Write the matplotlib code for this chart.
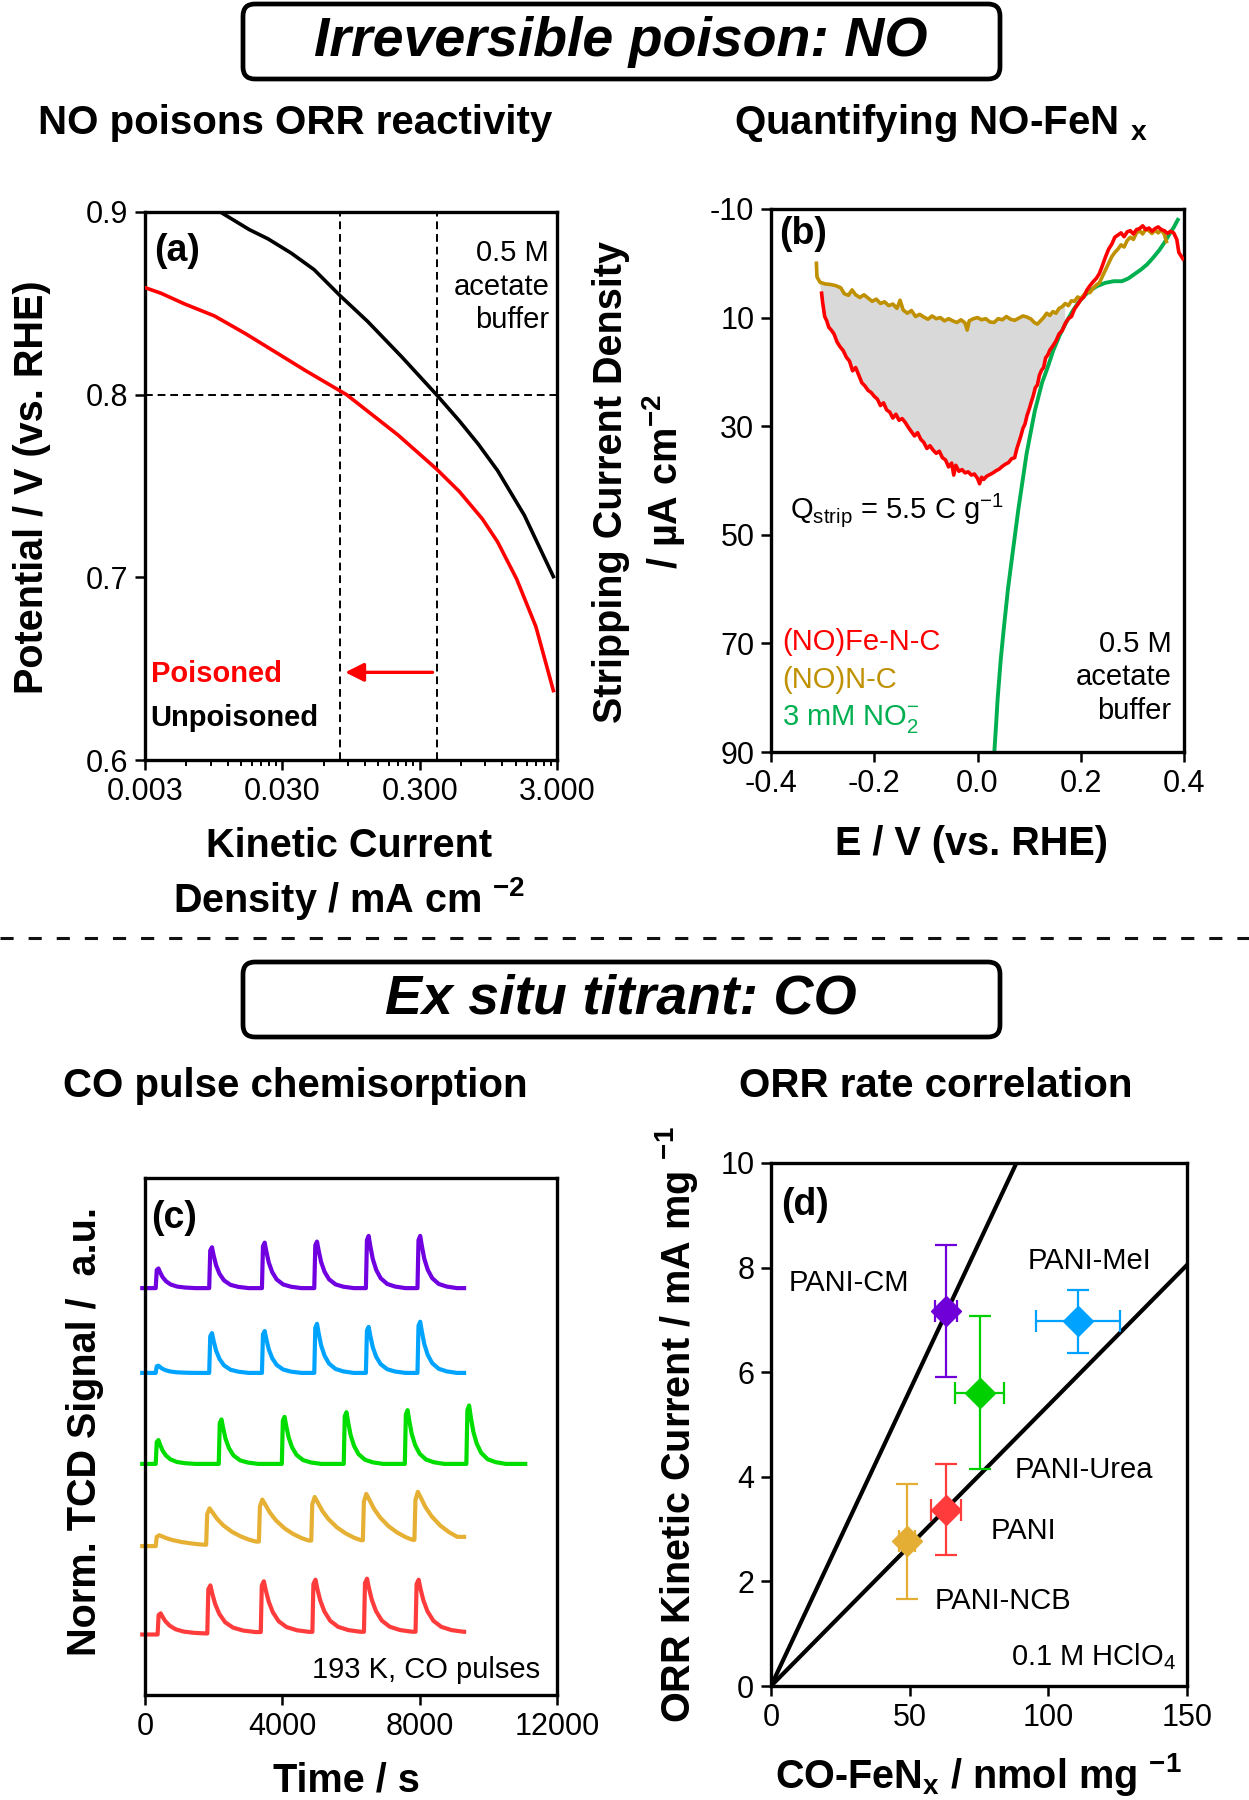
import matplotlib
matplotlib.use("Agg")
import matplotlib.pyplot as plt
from matplotlib.patches import FancyBboxPatch
from matplotlib.ticker import FixedLocator, FixedFormatter, NullLocator, NullFormatter

plt.rcParams['font.family'] = ['Liberation Sans', 'DejaVu Sans']
plt.rcParams['mathtext.default'] = 'regular'
plt.rcParams['axes.unicode_minus'] = False
NARROW = ['Liberation Sans Narrow', 'Liberation Sans', 'DejaVu Sans']

# ---------------- data ----------------
# (a) kinetic current vs potential
unpois_j = [0.0106, 0.0172, 0.0236, 0.0348, 0.0510, 0.0790, 0.1257, 0.2227, 0.3977,
            0.5829, 0.8038, 1.1063, 1.7344, 2.8222]
unpois_E = [0.900, 0.8904, 0.8853, 0.8775, 0.8685, 0.8542, 0.840, 0.8206, 0.800,
            0.7857, 0.7728, 0.7585, 0.7340, 0.7004]
pois_j = [0.003, 0.00393, 0.00577, 0.00961, 0.0161, 0.02689, 0.04487, 0.0881, 0.1257,
          0.2088, 0.3977, 0.5829, 0.8577, 1.1063, 1.5264, 2.1058, 2.8222]
pois_E = [0.8586, 0.8555, 0.8498, 0.8431, 0.8335, 0.8232, 0.8129, 0.800, 0.7909,
          0.7779, 0.7593, 0.7470, 0.7320, 0.7195, 0.6990, 0.6730, 0.6380]
ref_j = [0.079, 0.398]
ref_E = 0.8
a_xticks = [0.003, 0.03, 0.3, 3.0]
a_xticklabels = ['0.003', '0.030', '0.300', '3.000']
a_yticks = [0.6, 0.7, 0.8, 0.9]

# (b) stripping voltammetry
NC_E = [-0.312, -0.311, -0.305, -0.295, -0.285, -0.275, -0.265, -0.258, -0.250, -0.243,
        -0.236, -0.228, -0.220, -0.212, -0.204, -0.196, -0.188, -0.180, -0.172, -0.164,
        -0.156, -0.150, -0.144, -0.136, -0.128, -0.120, -0.112, -0.104, -0.096, -0.088,
        -0.080, -0.072, -0.064, -0.056, -0.048, -0.040, -0.032, -0.024, -0.020, -0.016,
        -0.008, 0.000, 0.008, 0.016, 0.024, 0.032, 0.040, 0.048, 0.056, 0.064,
        0.072, 0.080, 0.088, 0.096, 0.104, 0.110, 0.116, 0.122, 0.128, 0.134,
        0.140, 0.146, 0.152, 0.158, 0.164, 0.170, 0.176, 0.182, 0.188, 0.194,
        0.200, 0.206, 0.212, 0.218, 0.224, 0.230, 0.236, 0.242, 0.248, 0.254,
        0.260, 0.266, 0.272, 0.278, 0.284, 0.290, 0.296, 0.302, 0.308, 0.314,
        0.320, 0.326, 0.332, 0.338, 0.344, 0.350, 0.356, 0.362, 0.366]
NC_j = [0.0, 2.5, 3.5, 3.8, 3.9, 4.1, 4.5, 5.6, 5.9, 4.9,
        5.8, 6.3, 5.8, 6.4, 7.0, 6.6, 7.4, 7.1, 7.8, 7.5,
        8.3, 6.8, 8.6, 9.2, 8.7, 9.8, 9.4, 9.9, 10.3, 9.7,
        10.2, 10.0, 10.6, 10.2, 10.6, 10.9, 10.4, 11.0, 12.3, 10.6,
        10.2, 10.0, 10.4, 10.2, 10.8, 10.9, 10.2, 10.4, 9.8, 10.3,
        10.5, 10.1, 9.7, 9.9, 10.3, 10.9, 11.2, 10.6, 10.0, 9.2,
        9.6, 8.9, 9.2, 8.3, 8.0, 7.4, 7.8, 6.9, 7.0, 6.2,
        6.5, 5.8, 5.2, 5.4, 4.6, 4.0, 3.6, 2.4, 1.2, 0.0,
        -1.2, -2.0, -2.6, -3.4, -3.0, -4.2, -4.8, -4.4, -5.6, -6.0,
        -5.4, -6.3, -6.0, -5.5, -6.1, -5.6, -6.2, -5.3, -4.0]
FeNC_E = [-0.302, -0.300, -0.296, -0.292, -0.288, -0.284, -0.278, -0.272, -0.266, -0.260,
          -0.254, -0.248, -0.242, -0.236, -0.230, -0.224, -0.218, -0.212, -0.206, -0.200,
          -0.194, -0.188, -0.182, -0.176, -0.170, -0.164, -0.158, -0.152, -0.146, -0.140,
          -0.134, -0.128, -0.122, -0.116, -0.110, -0.104, -0.098, -0.092, -0.086, -0.080,
          -0.074, -0.068, -0.062, -0.056, -0.050, -0.046, -0.042, -0.036, -0.030, -0.024,
          -0.018, -0.012, -0.006, 0.000, 0.004, 0.008, 0.012, 0.018, 0.024, 0.030,
          0.036, 0.042, 0.048, 0.054, 0.060, 0.066, 0.072, 0.076, 0.080, 0.084,
          0.088, 0.092, 0.096, 0.100, 0.104, 0.108, 0.112, 0.116, 0.120, 0.124,
          0.128, 0.132, 0.136, 0.140, 0.146, 0.152, 0.158, 0.164, 0.170, 0.176,
          0.182, 0.188, 0.194, 0.200, 0.206, 0.212, 0.218, 0.224, 0.230, 0.236,
          0.242, 0.248, 0.254, 0.260, 0.266, 0.272, 0.278, 0.284, 0.290, 0.296,
          0.302, 0.308, 0.314, 0.320, 0.326, 0.332, 0.338, 0.344, 0.350, 0.356,
          0.362, 0.368, 0.374, 0.380, 0.386, 0.390, 0.394, 0.398]
FeNC_j = [5.5, 7.2, 9.8, 10.6, 11.8, 12.2, 13.0, 14.5, 15.4, 16.1,
          17.3, 18.0, 19.8, 19.2, 20.6, 22.0, 22.6, 23.4, 23.8, 24.5,
          25.0, 26.2, 25.7, 27.0, 27.4, 28.5, 27.8, 28.9, 28.6, 29.3,
          30.2, 31.0, 31.8, 31.2, 32.4, 33.0, 34.1, 33.6, 34.4, 35.0,
          34.6, 35.8, 36.2, 37.5, 36.8, 39.0, 37.2, 38.3, 38.0, 38.6,
          38.4, 39.0, 38.8, 39.6, 40.6, 39.4, 39.8, 39.2, 38.9, 38.6,
          38.2, 37.9, 37.4, 37.0, 36.7, 36.0, 35.8, 34.2, 33.0, 31.8,
          30.4, 29.6, 28.0, 26.9, 25.6, 24.4, 22.9, 22.4, 20.6, 19.7,
          19.2, 17.4, 16.9, 16.0, 15.2, 14.3, 13.0, 12.4, 11.1, 10.2,
          9.8, 8.4, 7.6, 6.7, 6.2, 4.9, 4.1, 3.4, 2.8, 1.9,
          0.4, -1.2, -2.6, -3.5, -4.8, -5.2, -5.6, -4.9, -5.8, -6.0,
          -5.4, -6.2, -6.4, -6.9, -6.2, -6.5, -5.9, -6.4, -6.7, -6.2,
          -6.0, -5.5, -5.9, -5.6, -4.4, -2.0, -1.4, -0.8]
NO2_E = [0.0326, 0.036, 0.039, 0.045, 0.051, 0.059, 0.067, 0.079, 0.0952, 0.111,
         0.125, 0.135, 0.147, 0.159, 0.171, 0.1835, 0.195, 0.2075, 0.220, 0.2316,
         0.2476, 0.2637, 0.2798, 0.292, 0.304, 0.316, 0.328, 0.340, 0.352, 0.362,
         0.372, 0.380, 0.388]
NO2_j = [90, 85, 80.2, 73, 67.2, 60, 54.1, 45.4, 35, 27.2,
         22.0, 19.4, 16.0, 13.3, 11.0, 8.9, 7.3, 5.9, 4.9, 4.2,
         3.6, 3.3, 3.3, 2.8, 2.0, 1.2, 0.25, -1.0, -2.4, -3.8,
         -5.4, -6.6, -8.0]
fill_Emax = 0.17
b_xticks = [-0.4, -0.2, 0.0, 0.2, 0.4]
b_xticklabels = ['-0.4', '-0.2', '0.0', '0.2', '0.4']
b_yticks = [-10, 10, 30, 50, 70, 90]

# (c) CO pulse chemisorption (offset traces, arbitrary units)
c_colors = ['#7000e0', '#00a4ff', '#00dd00', '#e6b034', '#ff3c3c']
c_base = [7.87, 6.23, 4.47, 2.88, 1.17]
c_end = [9294, 9294, 11074, 9294, 9294]
c_times = [[312, 1870, 3406, 4930, 6434, 7936],
           [312, 1870, 3406, 4930, 6434, 7936],
           [312, 2148, 3985, 5788, 7568, 9360],
           [312, 1781, 3317, 4842, 6345, 7847],
           [367, 1814, 3372, 4875, 6377, 7880]]
c_peaks = [[0.38, 0.79, 0.88, 0.90, 1.01, 1.01],
           [0.14, 0.77, 0.81, 0.95, 0.89, 0.99],
           [0.46, 0.86, 0.91, 1.00, 1.04, 1.13],
           [0.21, 0.73, 0.90, 0.95, 1.01, 1.05],
           [0.41, 0.95, 1.03, 1.06, 1.08, 1.06]]
# pulse shapes: time after injection (s) and fraction of peak height
fast_dt = [30, 80, 130, 200, 300, 430, 620, 850, 1150]
fast_fr = [0.92, 1.0, 0.80, 0.56, 0.35, 0.19, 0.08, 0.03, 0.0]
red_dt = [30, 90, 150, 230, 350, 520, 750, 1050, 1400]
red_fr = [0.92, 1.0, 0.82, 0.62, 0.42, 0.25, 0.14, 0.08, 0.05]
slow_dt = [30, 100, 180, 320, 500, 750, 1000, 1250, 1450]
slow_fr = [0.85, 1.0, 0.90, 0.72, 0.55, 0.38, 0.26, 0.17, 0.12]
c_shapes = [(fast_dt, fast_fr), (fast_dt, fast_fr), (fast_dt, fast_fr),
            (slow_dt, slow_fr), (red_dt, red_fr)]
c_start = -80
c_xticks = [0, 4000, 8000, 12000]

# (d) ORR rate correlation
d_names = ['PANI-CM', 'PANI-Urea', 'PANI-MeI', 'PANI', 'PANI-NCB']
d_colors = ['#7000d8', '#00d000', '#00a2ff', '#ff3b3b', '#e3ae33']
d_co = [63.0, 75.3, 110.8, 63.0, 49.1]
d_co_err = [4.0, 8.8, 15.2, 5.4, 2.8]
d_orr = [7.17, 5.61, 6.97, 3.37, 2.77]
d_orr_err = [1.27, 1.46, 0.61, 0.87, 1.10]
d_label_xy = [(6.2, 7.70), (88.0, 4.13), (92.4, 8.12), (79.3, 2.97), (59.0, 1.63)]
fit_steep_x = [0, 88.5]
fit_steep_y = [0, 10.0]
fit_shallow_x = [0, 150]
fit_shallow_y = [0, 8.05]

# ---------------- figure ----------------
W, H = 1249, 1800
fig = plt.figure(figsize=(W / 100, H / 100), dpi=100)

ov = fig.add_axes([0, 0, 1, 1])
ov.set_xlim(0, W)
ov.set_ylim(H, 0)
ov.axis('off')
ov.set_zorder(0)

for (x0, y0, x1, y1) in [(243, 4, 1000, 79), (243, 962, 1000, 1037)]:
    ov.add_patch(FancyBboxPatch((x0, y0), x1 - x0, y1 - y0,
                                boxstyle='round,pad=0,rounding_size=12',
                                fc='white', ec='black', lw=3.4))
ov.text(621, 42, 'Irreversible poison: NO', ha='center', va='center', fontsize=40,
        fontweight='bold', fontstyle='italic', family=NARROW)
ov.text(621, 1000, 'Ex situ titrant: CO', ha='center', va='center', fontsize=40,
        fontweight='bold', fontstyle='italic', family=NARROW)
ov.plot([0, W], [938, 938], color='#111111', lw=2.2, ls=(0, (4.3, 4.9)))

sub_kw = dict(ha='center', va='center', fontsize=29, fontweight='bold', family=NARROW)
ov.text(295, 123, 'NO poisons ORR reactivity', **sub_kw)
ov.text(941, 123, 'Quantifying NO-FeN $_{x}$', **sub_kw)
ov.text(295, 1086, 'CO pulse chemisorption', **sub_kw)
ov.text(936, 1086, 'ORR rate correlation', **sub_kw)

lab_kw = dict(ha='center', va='center', fontsize=28.5, fontweight='bold')
ov.text(32, 487, 'Potential / V (vs. RHE)', rotation=90, **lab_kw)
ov.text(349, 846, 'Kinetic Current', **lab_kw)
ov.text(349, 899, 'Density / mA cm $^{-2}$', **lab_kw)
ov.text(611, 482, 'Stripping Current Density', rotation=90, **lab_kw)
ov.text(664, 482, '/ \u00b5A cm$^{-2}$', rotation=90, **lab_kw)
ov.text(972, 844, 'E / V (vs. RHE)', **lab_kw)
ov.text(85, 1432, 'Norm. TCD Signal /  a.u.', rotation=90, **lab_kw)
ov.text(346, 1780, 'Time / s', **lab_kw)
ov.text(677, 1425, 'ORR Kinetic Current / mA mg $^{-1}$', rotation=90, **lab_kw)
ov.text(978, 1774, 'CO-FeN$_{x}$ / nmol mg $^{-1}$', **lab_kw)

TICK_FS = 22
LET_FS = 27


def add_ax(x0, y0, x1, y1):
    ax = fig.add_axes([x0 / W, 1 - y1 / H, (x1 - x0) / W, (y1 - y0) / H])
    ax.set_zorder(2)
    for s in ax.spines.values():
        s.set_linewidth(2.4)
    ax.tick_params(which='major', direction='out', length=7, width=1.8, labelsize=TICK_FS, pad=5)
    ax.tick_params(which='minor', direction='out', length=4, width=1.4)
    return ax


ann = dict(fontsize=21)

# ---- (a) ----
axA = add_ax(145, 212, 557, 760)
axA.set_xscale('log')
axA.plot(unpois_j, unpois_E, color='black', lw=2.6, zorder=3)
axA.plot(pois_j, pois_E, color='#ff0000', lw=2.6, zorder=3)
for xj in ref_j:
    axA.axvline(xj, color='black', lw=1.4, ls=(0, (4, 2.5)), zorder=2)
axA.axhline(ref_E, color='black', lw=1.4, ls=(0, (4, 2.5)), zorder=2)
axA.annotate('', xy=(ref_j[0] * 1.04, 0.648), xytext=(ref_j[1] * 0.98, 0.648),
             arrowprops=dict(arrowstyle='-|>', color='#ff0000', lw=2.4, mutation_scale=28))
axA.set_xlim(0.003, 3.0)
axA.set_ylim(0.6, 0.9)
axA.xaxis.set_major_locator(FixedLocator(a_xticks))
axA.xaxis.set_major_formatter(FixedFormatter(a_xticklabels))
axA.xaxis.set_minor_locator(FixedLocator([0.003 * k * 10 ** n for n in range(3) for k in range(2, 10)]))
axA.xaxis.set_minor_formatter(NullFormatter())
axA.set_yticks(a_yticks)
axA.set_yticklabels(['0.6', '0.7', '0.8', '0.9'])
axA.text(0.022, 0.929, '(a)', transform=axA.transAxes, fontsize=LET_FS, fontweight='bold', va='center')
axA.text(0.981, 0.95, '0.5 M\nacetate\nbuffer', transform=axA.transAxes, ha='right', va='top',
         linespacing=1.25, **ann)
axA.text(0.0033, 0.647, 'Poisoned', color='#ff0000', fontsize=21, fontweight='bold', va='center')
axA.text(0.0033, 0.623, 'Unpoisoned', color='black', fontsize=21, fontweight='bold', va='center')

# ---- (b) ----
axB = add_ax(771, 209, 1184, 752)
fx = [e for e in FeNC_E if e <= fill_Emax]
fy = [j for e, j in zip(FeNC_E, FeNC_j) if e <= fill_Emax]
gx = [e for e in NC_E if e <= fill_Emax]
gy = [j for e, j in zip(NC_E, NC_j) if e <= fill_Emax]
axB.fill(fx + gx[::-1], fy + gy[::-1], color='#d9d9d9', lw=0, zorder=1)
axB.plot(NO2_E, NO2_j, color='#00b050', lw=2.8, zorder=2)
axB.plot(NC_E, NC_j, color='#bf9000', lw=2.6, zorder=3)
axB.plot(FeNC_E, FeNC_j, color='#ff0000', lw=2.6, zorder=4)
axB.set_xlim(-0.4, 0.4)
axB.set_ylim(90, -10)
axB.set_xticks(b_xticks)
axB.set_xticklabels(b_xticklabels)
axB.set_yticks(b_yticks)
axB.set_yticklabels([str(v) for v in b_yticks])
axB.text(0.02, 0.954, '(b)', transform=axB.transAxes, fontsize=LET_FS, fontweight='bold', va='center')
axB.text(0.047, 0.446, 'Q$_{strip}$ = 5.5 C g$^{-1}$', transform=axB.transAxes, va='center', **ann)
axB.text(0.027, 0.202, '(NO)Fe-N-C', transform=axB.transAxes, va='center', color='#ff0000', **ann)
axB.text(0.027, 0.133, '(NO)N-C', transform=axB.transAxes, va='center', color='#bf9000', **ann)
axB.text(0.027, 0.060, '3 mM NO$_2^{-}$', transform=axB.transAxes, va='center', color='#00b050', **ann)
axB.text(0.970, 0.225, '0.5 M\nacetate\nbuffer', transform=axB.transAxes, ha='right', va='top',
         linespacing=1.25, **ann)

# ---- (c) ----
axC = add_ax(145, 1178, 557, 1695)
for col, base, tend, times, peaks, (tdt, tfr) in zip(c_colors, c_base, c_end, c_times, c_peaks, c_shapes):
    xs = [c_start]
    ys = [base]
    for i, (t0, pk) in enumerate(zip(times, peaks)):
        nxt = times[i + 1] if i + 1 < len(times) else tend
        xs.append(t0)
        ys.append(ys[-1])
        for dt, fr in zip(tdt, tfr):
            if t0 + dt < nxt:
                xs.append(t0 + dt)
                ys.append(base + pk * fr)
    xs.append(tend)
    ys.append(ys[-1])
    axC.plot(xs, ys, color=col, lw=3.0, clip_on=False, solid_joinstyle='round')
axC.set_xlim(0, 12000)
axC.set_ylim(0, 10)
axC.set_xticks(c_xticks)
axC.set_xticklabels([str(v) for v in c_xticks])
axC.yaxis.set_major_locator(NullLocator())
axC.text(0.015, 0.922, '(c)', transform=axC.transAxes, fontsize=LET_FS, fontweight='bold', va='center')
axC.text(0.958, 0.048, '193 K, CO pulses', transform=axC.transAxes, ha='right', va='center', **ann)

# ---- (d) ----
axD = add_ax(771, 1163, 1187, 1686)
axD.plot(fit_steep_x, fit_steep_y, color='black', lw=3.0, zorder=2)
axD.plot(fit_shallow_x, fit_shallow_y, color='black', lw=3.0, zorder=2)
for name, col, x, xe, y, ye, (lx, ly) in zip(d_names, d_colors, d_co, d_co_err, d_orr, d_orr_err, d_label_xy):
    axD.errorbar(x, y, xerr=xe, yerr=ye, fmt='D', color=col, ms=15, mec=col, elinewidth=1.6,
                 capsize=8, capthick=1.6, zorder=4)
    axD.text(lx, ly, name, va='center', ha='left', **ann)
axD.set_xlim(0, 150)
axD.set_ylim(0, 10)
axD.set_xticks([0, 50, 100, 150])
axD.set_yticks([0, 2, 4, 6, 8, 10])
axD.text(0.025, 0.919, '(d)', transform=axD.transAxes, fontsize=LET_FS, fontweight='bold', va='center')
axD.text(146, 0.56, '0.1 M HClO$_4$', ha='right', va='center', **ann)

fig.savefig('out.png', dpi=100)
